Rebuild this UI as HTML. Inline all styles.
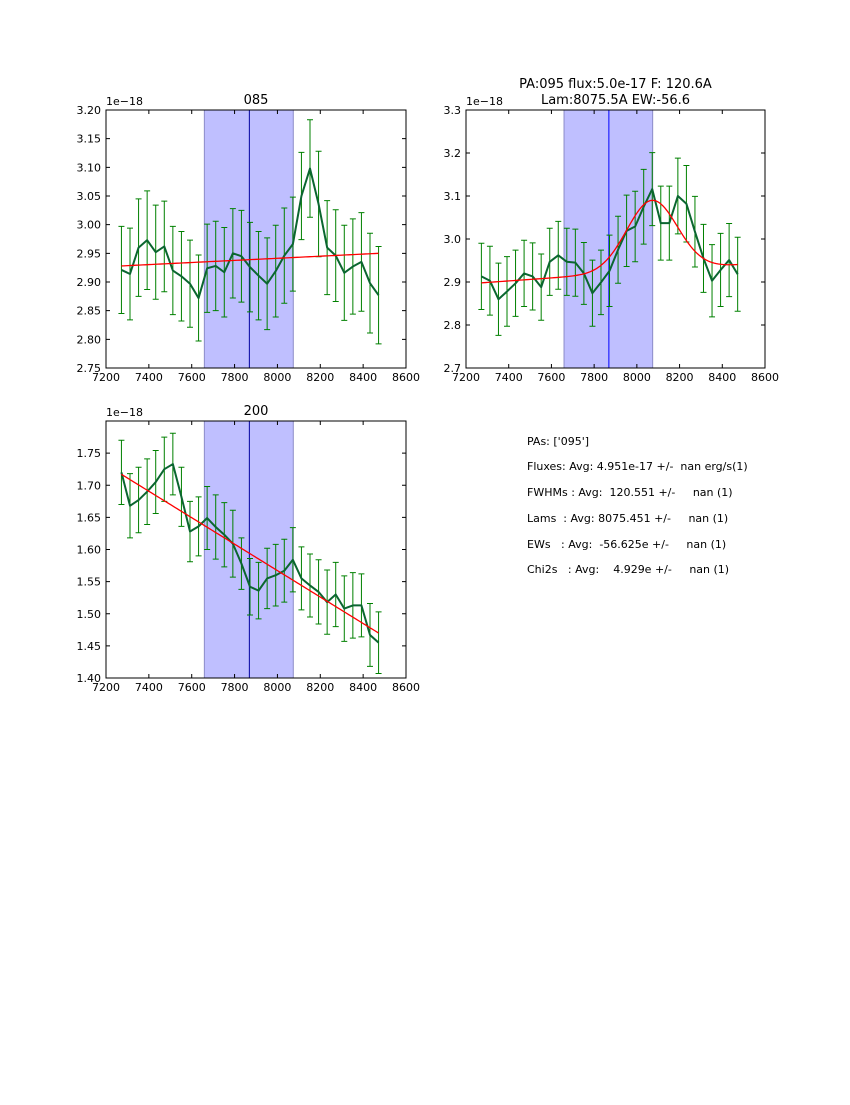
<!DOCTYPE html>
<html><head><meta charset="utf-8">
<style>
body{margin:0;background:#fff;}
svg text{font-family:"DejaVu Sans","Liberation Sans",sans-serif;}
</style></head>
<body>
<svg id="fig" width="850" height="1100" xmlns="http://www.w3.org/2000/svg">
<rect width="850" height="1100" fill="#fff"/>
<g id="info" font-size="11" fill="#000" style="white-space:pre">
<text x="527" y="445" xml:space="preserve">PAs: ['095']</text>
<text x="527" y="470" xml:space="preserve">Fluxes: Avg: 4.951e-17 +/-  nan erg/s(1)</text>
<text x="527" y="496" xml:space="preserve">FWHMs : Avg:  120.551 +/-     nan (1)</text>
<text x="527" y="522" xml:space="preserve">Lams  : Avg: 8075.451 +/-     nan (1)</text>
<text x="527" y="548" xml:space="preserve">EWs   : Avg:  -56.625e +/-     nan (1)</text>
<text x="527" y="573" xml:space="preserve">Chi2s   : Avg:    4.929e +/-     nan (1)</text>
</g>
</svg>
<script>
const wavelengths = [7272,7312,7352,7392,7432,7472,7512,7552,7592,7632,7672,7712,7752,7792,7832,7872,7912,7952,7992,8032,8072,8112,8152,8192,8232,8272,8312,8352,8392,8432,8472];
const flux085 = [2.921,2.914,2.960,2.973,2.952,2.962,2.920,2.910,2.897,2.872,2.924,2.928,2.917,2.950,2.945,2.926,2.911,2.897,2.919,2.946,2.966,3.050,3.098,3.036,2.960,2.946,2.916,2.927,2.935,2.898,2.877];
const err085 = [0.076,0.080,0.085,0.086,0.082,0.079,0.077,0.078,0.076,0.075,0.077,0.078,0.078,0.078,0.080,0.078,0.077,0.080,0.080,0.083,0.082,0.076,0.085,0.092,0.082,0.080,0.083,0.083,0.086,0.087,0.085];
const fit085 = [2.928,2.950];
const flux095 = [2.913,2.903,2.860,2.878,2.897,2.920,2.913,2.888,2.947,2.962,2.947,2.945,2.920,2.874,2.899,2.926,2.975,3.019,3.029,3.075,3.116,3.037,3.037,3.100,3.082,3.017,2.955,2.903,2.928,2.951,2.918];
const err095 = [0.077,0.080,0.084,0.081,0.077,0.077,0.078,0.077,0.078,0.079,0.078,0.078,0.072,0.077,0.075,0.083,0.078,0.083,0.082,0.087,0.085,0.086,0.086,0.088,0.089,0.082,0.079,0.084,0.085,0.085,0.086];
const fit095 = [2.898,2.940];      // continuum start/end
const gauss095 = [0.164,8071,118];  // amplitude, centre, sigma
const flux200 = [1.720,1.668,1.677,1.690,1.705,1.725,1.733,1.682,1.628,1.636,1.649,1.635,1.623,1.609,1.578,1.542,1.536,1.555,1.560,1.567,1.584,1.555,1.544,1.534,1.518,1.530,1.508,1.513,1.513,1.467,1.455];
const err200 = [0.050,0.050,0.051,0.051,0.049,0.050,0.048,0.046,0.047,0.046,0.049,0.050,0.050,0.052,0.040,0.044,0.044,0.047,0.048,0.049,0.050,0.049,0.049,0.050,0.050,0.050,0.051,0.051,0.049,0.049,0.048];
const fit200 = [1.717,1.470];
const xTicks = [7200,7400,7600,7800,8000,8200,8400,8600];
const yTicks085 = ["3.20","3.15","3.10","3.05","3.00","2.95","2.90","2.85","2.80","2.75"];
const yTicks095 = ["3.3","3.2","3.1","3.0","2.9","2.8","2.7"];
const yTicks200 = ["1.75","1.70","1.65","1.60","1.55","1.50","1.45","1.40"];
const shade = [7659,8074];
const lineCentre = 7869;

const NS="http://www.w3.org/2000/svg";
const svg=document.getElementById('fig');
function mk(tag,attrs,parent){const e=document.createElementNS(NS,tag);for(const k in attrs)e.setAttribute(k,attrs[k]);(parent||svg).appendChild(e);return e;}

function panel(name,L,T,R,B,ymin,ymax,yTicks,flux,err,fitFn,title,vcol){
  const g=mk('g',{});
  
  
  const xs=v=>L+(v-7200)/(8600-7200)*(R-L);
  const ys=v=>B-(v-ymin)/(ymax-ymin)*(B-T);
  const sh=mk('rect',{x:xs(shade[0]),y:T,width:xs(shade[1])-xs(shade[0]),height:B-T,fill:'#bfbfff',stroke:'#8c8cc8','stroke-width':1},g);
  
  
  const vl=mk('line',{x1:xs(lineCentre),x2:xs(lineCentre),y1:T,y2:B,stroke:vcol,'stroke-width':1},g);
  
  
  // error bars
  for(let i=0;i<flux.length;i++){
    const x=xs(wavelengths[i]),y1=ys(flux[i]-err[i]),y2=ys(flux[i]+err[i]);
    const eb=mk('path',{d:`M${x},${y1}V${y2}M${x-3},${y1}H${x+3}M${x-3},${y2}H${x+3}`,stroke:'#008000','stroke-width':1,fill:'none'},g);
    
    
  }
  let d='';
  for(let i=0;i<flux.length;i++)d+=(i?'L':'M')+xs(wavelengths[i]).toFixed(2)+','+ys(flux[i]).toFixed(2);
  const dl=mk('path',{d:d,stroke:'#0b6630','stroke-width':2,fill:'none','stroke-linejoin':'round'},g);
  
  
  let fd='';
  const w0=wavelengths[0],w1=wavelengths[wavelengths.length-1];
  for(let k=0;k<=120;k++){const w=w0+(w1-w0)*k/120;fd+=(k?'L':'M')+xs(w).toFixed(2)+','+ys(fitFn(w)).toFixed(2);}
  const fl=mk('path',{d:fd,stroke:'#ff0000','stroke-width':1.3,fill:'none'},g);
  
  
  const fr=mk('rect',{x:L,y:T,width:R-L,height:B-T,fill:'none',stroke:'#000','stroke-width':1},g);
  
  
  xTicks.forEach(t=>{
    const x=xs(t);
    mk('path',{d:`M${x},${B}v-4M${x},${T}v4`,stroke:'#000','stroke-width':1},g);
    const tx=mk('text',{x:x,y:B+13,'font-size':11,'text-anchor':'middle'},g);
    tx.textContent=t;
    
    
  });
  yTicks.forEach(s=>{
    const y=ys(parseFloat(s));
    mk('path',{d:`M${L},${y}h4M${R},${y}h-4`,stroke:'#000','stroke-width':1},g);
    const tx=mk('text',{x:L-5,y:y+4,'font-size':11,'text-anchor':'end'},g);
    tx.textContent=s;
    
    
  });
  const off=mk('text',{x:L,y:T-5,'font-size':11},g);
  off.textContent='1e\u221218';
  
  
  title.forEach((s,i)=>{
    const tt=mk('text',{x:(L+R)/2,y:T-6-(title.length-1-i)*16,'font-size':13,'text-anchor':'middle'},g);
    tt.textContent=s;
    
    
  });
}
const lin=(a,b)=>w=>a+(b-a)*(w-wavelengths[0])/(wavelengths[wavelengths.length-1]-wavelengths[0]);
panel('panel-085',106,110,406,368,2.75,3.20,yTicks085,flux085,err085,lin(fit085[0],fit085[1]),['085'],'#0000a0');
const c095=lin(fit095[0],fit095[1]);
panel('panel-095',466,110,765,368,2.7,3.3,yTicks095,flux095,err095,w=>c095(w)+gauss095[0]*Math.exp(-0.5*Math.pow((w-gauss095[1])/gauss095[2],2)),['PA:095 flux:5.0e-17 F: 120.6A','Lam:8075.5A EW:-56.6'],'#0000ff');
panel('panel-200',106,421,406,678,1.40,1.80,yTicks200,flux200,err200,lin(fit200[0],fit200[1]),['200'],'#0000a0');
svg.appendChild(document.getElementById('info'));
</script>
</body></html>
